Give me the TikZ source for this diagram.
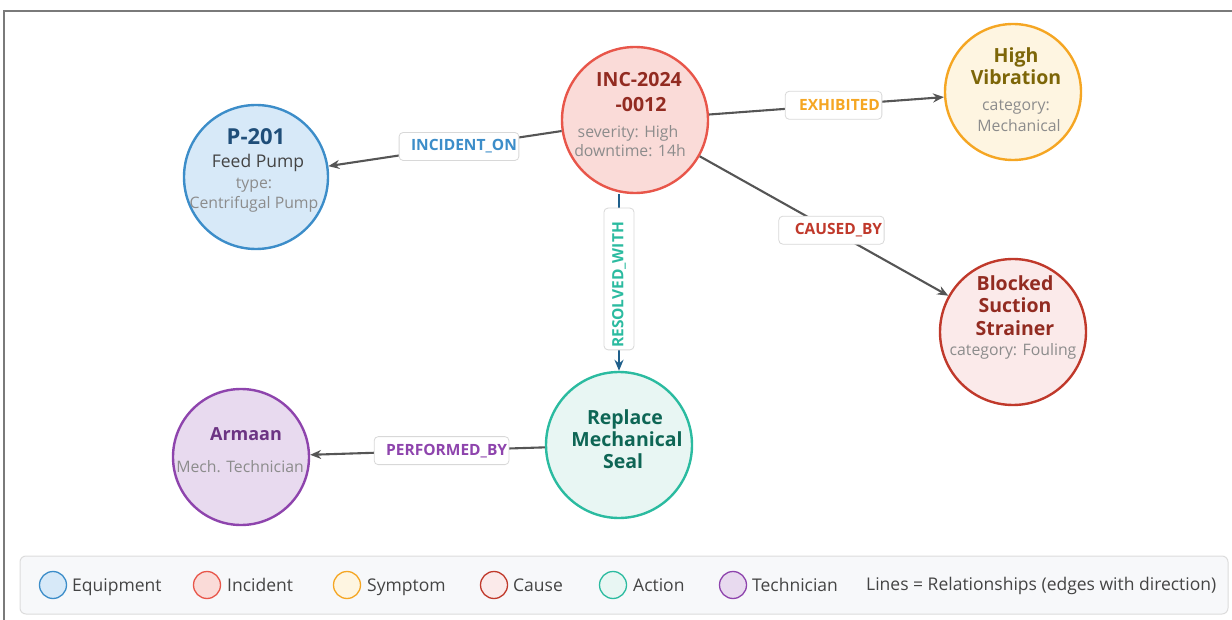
\documentclass[tikz,border=0pt]{standalone}
\usepackage{fontspec}
\setmainfont{Open Sans}
\usetikzlibrary{arrows.meta}

% entity colours
\definecolor{eqS}{HTML}{3C8DC9}\definecolor{eqF}{HTML}{D7E9F8}\definecolor{eqT}{HTML}{1F4E79}
\definecolor{inS}{HTML}{E8564A}\definecolor{inF}{HTML}{FADBD8}\definecolor{inT}{HTML}{922B21}
\definecolor{syS}{HTML}{F5A623}\definecolor{syF}{HTML}{FEF5E1}\definecolor{syT}{HTML}{7D6608}
\definecolor{caS}{HTML}{C0392B}\definecolor{caF}{HTML}{FBEAEA}\definecolor{caT}{HTML}{922B21}
\definecolor{acS}{HTML}{2BBBA0}\definecolor{acF}{HTML}{E8F6F3}\definecolor{acT}{HTML}{0E6655}
\definecolor{teS}{HTML}{8E44AD}\definecolor{teF}{HTML}{E8DAEF}\definecolor{teT}{HTML}{6C3483}
\definecolor{edgeC}{HTML}{555555}
\definecolor{resC}{HTML}{1F5F8B}
\definecolor{subC}{HTML}{444444}
\definecolor{metaC}{HTML}{8C8C8C}
\definecolor{frameC}{HTML}{7A7A7A}
\definecolor{lgF}{HTML}{F7F8FA}
\definecolor{lgD}{HTML}{DCDCDC}
\definecolor{lbD}{HTML}{D8D8D8}

\tikzset{
  ent/.style={circle, line width=2.4pt, inner sep=0pt},
  equip/.style={ent, draw=eqS, fill=eqF},
  incid/.style={ent, draw=inS, fill=inF},
  sympt/.style={ent, draw=syS, fill=syF},
  cause/.style={ent, draw=caS, fill=caF},
  actn/.style={ent, draw=acS, fill=acF},
  tech/.style={ent, draw=teS, fill=teF},
  txt/.style={inner sep=0pt, text height=.72em, text depth=.2em},
  ttl/.style={txt, font=\bfseries\fontsize{19.5}{21}\selectfont},
  sub/.style={txt, font=\fontsize{17.5}{19}\selectfont, text=subC},
  meta/.style={txt, font=\fontsize{15.8}{18}\selectfont, text=metaC},
  rel/.style={draw=edgeC, line width=2.1pt, -{Stealth[length=11pt,width=9pt]}},
  lbl/.style={draw=lbD, fill=white, rounded corners=4pt, line width=0.8pt,
    inner xsep=2pt, inner ysep=0pt, minimum height=28pt,
    font=\bfseries\fontsize{15.5}{17}\selectfont},
  lgtext/.style={anchor=west, inner sep=0pt, text height=.72em, text depth=.2em,
    font=\fontsize{17.5}{19}\selectfont, text=subC},
  lgdot/.style={circle, minimum size=27pt, line width=1.3pt, inner sep=0pt},
}

\begin{document}
\begin{tikzpicture}[x=1pt, y=-1pt]
\useasboundingbox (0,0) rectangle (1232,620);

% outer frame
\draw[frameC, line width=1.6pt] (4,620) -- (4,11) -- (1232,11);

% entities
\node[equip, minimum size=144pt] (p201) at (256,177) {};
\node[incid, minimum size=146pt] (inc) at (635,120) {};
\node[sympt, minimum size=136pt] (vib) at (1013,92) {};
\node[cause, minimum size=146pt] (strn) at (1013,332) {};
\node[actn, minimum size=146pt] (seal) at (619,445) {};
\node[tech, minimum size=136pt] (arm) at (241,457) {};

% entity texts
\node[ttl, text=eqT, font=\bfseries\fontsize{22}{24}\selectfont] (p201a) at (256,142) {P-201};
\node[sub] (p201b) at (258,165) {Feed Pump};
\node[meta] (p201c) at (254,186) {type:};
\node[meta] (p201d) at (254,206) {Centrifugal Pump};

\node[ttl, text=inT] (inca) at (639,84) {INC-2024};
\node[ttl, text=inT] (incb) at (641,109) {-0012};
\node[meta] (incc) at (628,135) {severity: High};
\node[meta] (incd) at (630,154) {downtime: 14h};

\node[ttl, text=syT] (viba) at (1016,60) {High};
\node[ttl, text=syT] (vibb) at (1016,82) {Vibration};
\node[meta] (vibc) at (1016,108) {category:};
\node[meta] (vibd) at (1019,129) {Mechanical};

\node[ttl, text=caT] (strna) at (1015,288) {Blocked};
\node[ttl, text=caT] (strnb) at (1015,310) {Suction};
\node[ttl, text=caT] (strnc) at (1015,333) {Strainer};
\node[meta] (strnd) at (1013,353) {category: Fouling};

\node[ttl, text=acT] (seala) at (625,422) {Replace};
\node[ttl, text=acT] (sealb) at (627,444) {Mechanical};
\node[ttl, text=acT] (sealc) at (623,466) {Seal};

\node[ttl, text=teT, font=\bfseries\fontsize{18}{20}\selectfont] (arma) at (246,438) {Armaan};
\node[meta] (armb) at (240,470) {Mech. Technician};

% relationships
\draw[rel] (inc) -- node[lbl, pos=0.44, text=eqS] (l1) {\hspace*{10pt}INCIDENT\_ON} (p201);
\draw[rel] (inc) -- node[lbl, pos=0.53, text=syS] (l2) {\hspace*{12pt}EXHIBITED} (vib);
\draw[rel] (inc) -- node[lbl, pos=0.53, text=caS] (l3) {\hspace*{14pt}CAUSED\_BY} (strn);
\draw[rel, draw=resC] (inc.south -| seal.north) -- node[lbl, pos=0.48, rotate=90, text=acS, minimum height=30pt] (l4) {RESOLVED\_WITH\hspace*{12pt}} (seal.north);
\draw[rel] (seal) -- node[lbl, pos=0.44, text=teS] (l5) {\hspace*{10pt}PERFORMED\_BY} (arm);

% legend
\node[draw=lgD, fill=lgF, line width=1pt, rounded corners=6pt, minimum width=1208pt, minimum height=58pt, inner sep=0pt] (legend) at (624,585) {};
\node[lgdot, draw=eqS, fill=eqF] (kEq) at (53,585) {};
\node[lgtext] (tEq) at (72,589) {Equipment};
\node[lgdot, draw=inS, fill=inF] (kIn) at (207,585) {};
\node[lgtext] (tIn) at (227,589) {Incident};
\node[lgdot, draw=syS, fill=syF] (kSy) at (347,585) {};
\node[lgtext] (tSy) at (367,589) {Symptom};
\node[lgdot, draw=caS, fill=caF] (kCa) at (494,585) {};
\node[lgtext] (tCa) at (513,589) {Cause};
\node[lgdot, draw=acS, fill=acF] (kAc) at (613,585) {};
\node[lgtext] (tAc) at (633,589) {Action};
\node[lgdot, draw=teS, fill=teF] (kTe) at (733,585) {};
\node[lgtext] (tTe) at (752,589) {Technician};
\node[lgtext] (tLines) at (866,588) {Lines = Relationships (edges with direction)};
\end{tikzpicture}
\end{document}
